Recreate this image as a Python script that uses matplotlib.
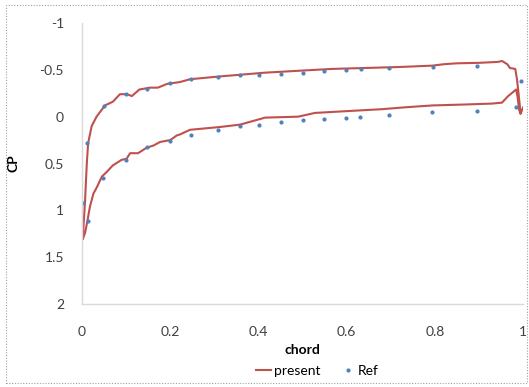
import numpy as np
import matplotlib
matplotlib.use("Agg")
import matplotlib.pyplot as plt
from matplotlib.patches import Rectangle

plt.rcParams['font.family'] = ['Lato', 'DejaVu Sans']

# present: upper (suction) and lower (pressure) surface
upper_x = [0.0016, 0.007, 0.011, 0.014, 0.022, 0.033, 0.052, 0.070, 0.086, 0.102,
           0.113, 0.13, 0.154, 0.172, 0.193, 0.222, 0.245, 0.313, 0.415, 0.49,
           0.567, 0.642, 0.717, 0.794, 0.82, 0.85, 0.90, 0.943, 0.952, 0.964,
           0.970, 0.982, 0.986, 0.991, 0.994]
upper_cp = [1.31, 0.89, 0.49, 0.28, 0.10, 0.0, -0.12, -0.16, -0.24, -0.24,
            -0.22, -0.29, -0.31, -0.31, -0.35, -0.37, -0.40, -0.43, -0.47, -0.49,
            -0.51, -0.52, -0.53, -0.545, -0.56, -0.57, -0.575, -0.585, -0.595, -0.56,
            -0.52, -0.51, -0.40, -0.18, -0.04]
lower_x = [0.0016, 0.007, 0.012, 0.018, 0.026, 0.033, 0.045, 0.056, 0.070, 0.09,
           0.101, 0.109, 0.127, 0.147, 0.161, 0.177, 0.2, 0.215, 0.222, 0.245,
           0.313, 0.358, 0.415, 0.49, 0.528, 0.603, 0.68, 0.732, 0.794, 0.868,
           0.93, 0.952, 0.966, 0.984, 0.987, 0.991, 0.994, 1.0]
lower_cp = [1.31, 1.24, 1.12, 0.96, 0.82, 0.76, 0.64, 0.59, 0.52, 0.46,
            0.45, 0.39, 0.39, 0.33, 0.31, 0.27, 0.25, 0.20, 0.19, 0.14,
            0.11, 0.085, 0.01, 0.0, -0.04, -0.06, -0.08, -0.10, -0.12, -0.13,
            -0.14, -0.15, -0.22, -0.29, -0.22, -0.07, -0.03, -0.10]

# Ref data points
ref_upper_x = [0.0016, 0.012, 0.05, 0.1, 0.148, 0.2, 0.246, 0.309, 0.358, 0.402,
               0.45, 0.5, 0.549, 0.598, 0.632, 0.695, 0.795, 0.896, 0.995]
ref_upper_cp = [0.92, 0.28, -0.11, -0.24, -0.30, -0.36, -0.40, -0.42, -0.44, -0.45,
                -0.46, -0.47, -0.49, -0.50, -0.51, -0.52, -0.53, -0.545, -0.385]
ref_lower_x = [0.013, 0.048, 0.1, 0.147, 0.2, 0.246, 0.309, 0.358, 0.402, 0.45,
               0.5, 0.548, 0.599, 0.63, 0.696, 0.793, 0.896, 0.983]
ref_lower_cp = [1.11, 0.66, 0.46, 0.32, 0.26, 0.20, 0.14, 0.10, 0.085, 0.06,
                0.04, 0.02, 0.01, 0.0, -0.02, -0.05, -0.06, -0.10]

xticks = [0, 0.2, 0.4, 0.6, 0.8, 1]
xtick_labels = ["0", "0.2", "0.4", "0.6", "0.8", "1"]
yticks = [-1, -0.5, 0, 0.5, 1, 1.5, 2]
ytick_labels = ["-1", "-0.5", "0", "0.5", "1", "1.5", "2"]

fig = plt.figure(figsize=(5.29, 3.87), dpi=100)
ax = fig.add_axes([0.155, 0.2145, 0.834, 0.726])

present_x = upper_x[::-1] + lower_x
present_cp = upper_cp[::-1] + lower_cp
ax.plot(present_x, present_cp, color="#C0504D", lw=1.5, label="present")
ax.plot(ref_upper_x + ref_lower_x, ref_upper_cp + ref_lower_cp, ls="none",
        marker="o", ms=2.0, color="#4F81BD", label="Ref")

ax.set_xlim(0, 1)
ax.set_ylim(2, -1)
ax.set_xticks(xticks)
ax.set_xticklabels(xtick_labels)
ax.set_yticks(yticks)
ax.set_yticklabels(ytick_labels)
ax.tick_params(length=0, labelsize=10, labelcolor="#404040")
ax.tick_params(axis="x", pad=16)
ax.tick_params(axis="y", pad=13)
for s in ["top", "right"]:
    ax.spines[s].set_visible(False)
for s in ["left", "bottom"]:
    ax.spines[s].set_color("#D9D9D9")
    ax.spines[s].set_linewidth(1.0)

ax.set_xlabel("chord", fontsize=10, fontweight="bold", labelpad=4)
ax.set_ylabel("CP", fontsize=10, fontweight="bold", labelpad=14)

fig.legend(loc="center", bbox_to_anchor=(0.6, 0.041), ncol=2, frameon=False,
           fontsize=10, handlelength=1.1, handletextpad=0.2, columnspacing=1.4)

fig.patches.append(Rectangle((0.012, 0.01), 0.985, 0.978, transform=fig.transFigure,
                             fill=False, ec="#A0A0A0", lw=0.8, ls=(0, (1, 1.5))))

fig.savefig("out.png", dpi=100)
